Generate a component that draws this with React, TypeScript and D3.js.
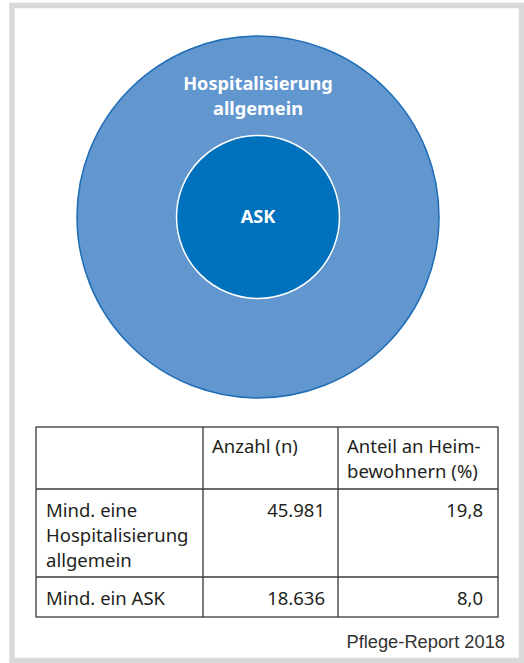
import React from "react";
import * as d3 from "d3";

// circle labels and counts
const circleLabels = [["Hospitalisierung", "allgemein"], ["ASK"]];
const circleCounts = [45981, 18636];

// table content
const headerCells = [[""], ["Anzahl (n)"], ["Anteil an Heim-", "bewohnern (%)"]];
const rowLabels = [["Mind. eine", "Hospitalisierung", "allgemein"], ["Mind. ein ASK"]];
const rowCounts = [45981, 18636];
const rowShares = [19.8, 8.0];
const source = "Pflege-Report 2018";

const W = 524;
const H = 663;

const fmtCount = (v: number) => d3.format(",")(v).replace(/,/g, ".");
const fmtShare = (v: number) => d3.format(".1f")(v).replace(".", ",");

export default function App() {
  const cx = 258;
  const cy = 217;
  // radius from count (not area-true, matches the original figure)
  const r = d3.scaleLinear().domain([circleCounts[1], circleCounts[0]]).range([81.5, 181]);

  const colX = [36, 203, 338, 498];
  const rowY = [427, 489, 577, 617];
  const lh = 25;
  const font = "'Noto Sans', sans-serif";
  const ink = "#231f20";

  return (
    <div style={{ position: "absolute", left: 0, top: 0 }}>
      <svg width={W} height={H} style={{ display: "block", background: "#fff" }}>
        <rect x={12} y={5.5} width={509.5} height={655} fill="#fff" stroke="#d9d9d9" strokeWidth={5.5} />

        {/* circles */}
        <circle cx={cx} cy={cy} r={r(circleCounts[0])} fill="#6196cf" stroke="#1e6db6" strokeWidth={1.5} />
        <circle cx={cx} cy={cy} r={r(circleCounts[1])} fill="#0071bc" stroke="#fff" strokeWidth={1.5} />
        <text x={cx} textAnchor="middle" fill="#fff" fontFamily={font} fontWeight="bold" fontSize={18.2}>
          {circleLabels[0].map((t, i) => (
            <tspan key={i} x={cx} y={90 + i * 25}>{t}</tspan>
          ))}
        </text>
        <text x={cx} y={cy + 6} textAnchor="middle" fill="#fff" fontFamily={font} fontWeight="bold" fontSize={18.2}>
          {circleLabels[1][0]}
        </text>

        {/* table */}
        <g stroke="#3a3a3a" strokeWidth={1.3} fill="none">
          <rect x={colX[0]} y={rowY[0]} width={colX[3] - colX[0]} height={rowY[3] - rowY[0]} />
          {rowY.slice(1, 3).map((y, i) => (
            <line key={"h" + i} x1={colX[0]} x2={colX[3]} y1={y} y2={y} />
          ))}
          {colX.slice(1, 3).map((x, i) => (
            <line key={"v" + i} x1={x} x2={x} y1={rowY[0]} y2={rowY[3]} />
          ))}
        </g>
        <g fontFamily={font} fontSize={18.5} fill={ink}>
          {headerCells.map((lines, c) =>
            lines.map((t, i) => (
              <text key={"hd" + c + i} x={colX[c] + 9} y={rowY[0] + 26 + i * lh}>{t}</text>
            ))
          )}
          {rowLabels.map((lines, r2) =>
            lines.map((t, i) => (
              <text key={"rl" + r2 + i} x={colX[0] + 10} y={rowY[r2 + 1] + 28 + i * lh}>{t}</text>
            ))
          )}
          {rowCounts.map((v, i) => (
            <text key={"rc" + i} x={colX[2] - 13} y={rowY[i + 1] + 28} textAnchor="end">{fmtCount(v)}</text>
          ))}
          {rowShares.map((v, i) => (
            <text key={"rs" + i} x={colX[3] - 15} y={rowY[i + 1] + 28} textAnchor="end">{fmtShare(v)}</text>
          ))}
        </g>

        <text x={505} y={648} textAnchor="end" fontFamily="'Liberation Sans', Arial, sans-serif" fontSize={18.3} fill="#333">
          {source}
        </text>
      </svg>
    </div>
  );
}
